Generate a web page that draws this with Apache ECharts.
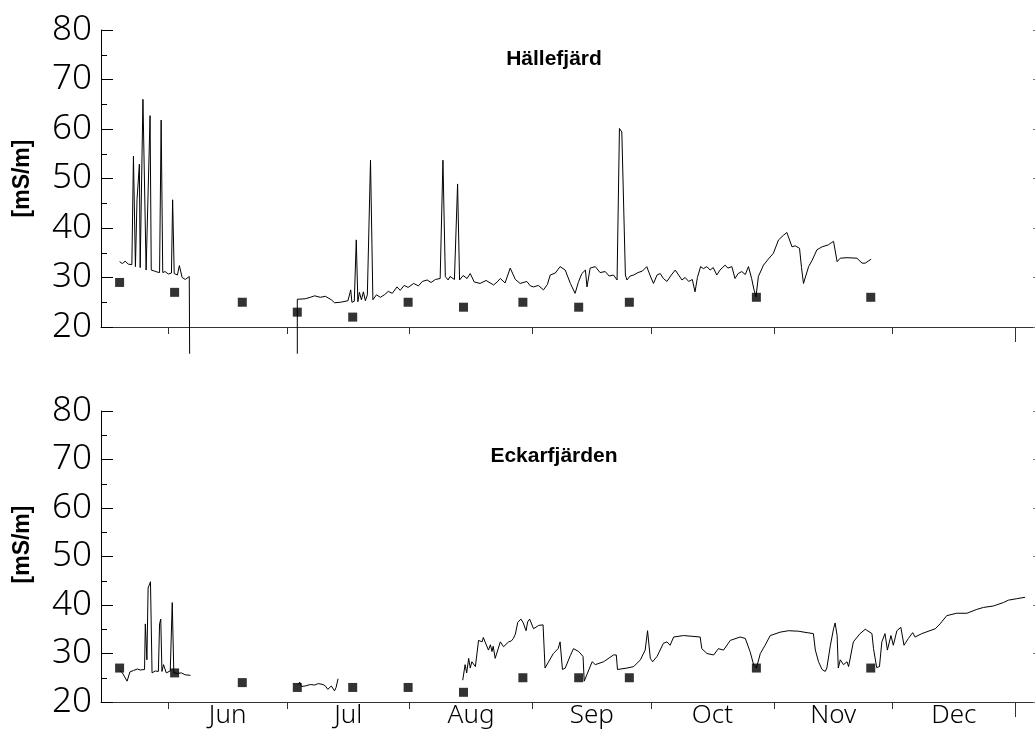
<!DOCTYPE html>
<html>
<head>
<meta charset="utf-8">
<title>Konduktivitet</title>
<script src="https://cdn.jsdelivr.net/npm/echarts@6/dist/echarts.min.js"></script>
<style>
  html, body { margin: 0; padding: 0; background: #fff; }
  #chart { width: 1035px; height: 729px; }
</style>
</head>
<body>
<div id="chart"></div>
<script>
// Days are counted from 1 June; values are conductivity in mS/m.
const monthLabels = ['Jun', 'Jul', 'Aug', 'Sep', 'Oct', 'Nov', 'Dec'];
const monthStartDay = [0, 30, 61, 92, 122, 153, 183, 214];   // 1 Jun ... 1 Jan
const stationNames = ['Hällefjärd', 'Eckarfjärden'];
const unitLabel = '[mS/m]';

// Grab samples (same dates at both stations)
const sampleDay = [-12.3, 1.6, 18.7, 32.6, 46.6, 60.6, 74.6, 89.6, 103.7, 116.5, 148.6, 177.5];
const hallSample = [29, 27, 25, 23, 22, 25, 24, 25, 24, 25, 26, 26];
const eckSample = [27, 26, 24, 23, 23, 23, 22, 25, 25, 25, 27, 27];

// Logger series, Hällefjärd (null = gap in the record)
const hallDay = [
  -12.3, -11.6, -10.9, -10.1, -9.2, -8.8, -8.3, -7.9, -7.3, -7.1, -6.7, -6.4, -5.6, -5.1, -4.6, -4.3,
  -3.5, -2.8, -2.2, -1.8, -1.4, -0.8, 0, 0.8, 1.1, 1.5, 2.3, 2.8, 3.5, 4.3, 5.3, 5.4,
  19.0,
  32.6, 32.6, 33.0, 34.6, 35.9, 37.0, 38.4, 39.7, 41.2, 42.0, 43.5, 45.4, 46.1, 46.4, 47.0, 47.5,
  47.9, 48.3, 48.8, 49.3, 49.8, 50.3, 51.1, 51.7, 52.6, 53.6, 54.6, 55.6, 56.6, 57.8, 58.6, 59.6,
  60.6, 62.0, 63.2, 64.2, 65.4, 66.4, 67.5, 68.7, 69.4, 70.0, 70.7, 71.2, 72.3, 73.1, 73.6, 74.5,
  75.5, 76.3, 77.3, 78.8, 80.3, 82.2, 83.1, 83.9, 85.1, 86.4, 87.7, 88.9, 90.6, 91.5, 92.3, 93.5,
  94.8, 95.8, 96.5, 97.8, 99.0, 100.3, 101.6, 102.8, 103.6, 104.5, 105.4, 105.8, 106.6, 107.9, 109.1, 110.4,
  111.4, 112.5, 113.4, 114.0, 114.6, 115.5, 115.9, 116.7, 117.6, 118.7, 119.8, 120.9, 121.8, 122.6, 123.5, 124.3,
  125.1, 126.0, 127.1, 128.1, 129.8, 130.6, 131.5, 132.4, 133.1, 133.7, 134.5, 135.2, 136.1, 136.9, 137.7, 138.6,
  139.4, 140.7, 141.4, 142.4, 143.2, 144.0, 144.9, 145.8, 146.6, 147.4, 148.0, 148.5, 149.1, 150.4, 151.6, 152.9,
  154.2, 155.4, 156.3, 157.6, 158.4, 159.5, 160.0, 160.5, 161.8, 162.7, 163.9, 165.2, 166.8, 167.5, 168.1, 169.0,
  169.8, 171.5, 174.0, 175.3, 176.1, 177.6
];
const hallVal = [
  33.2, 32.8, 33.3, 32.7, 32.6, 54.5, 32.2, 45.7, 52.9, 32.0, 32.3, 66.0, 31.5, 31.7, 62.7, 31.5,
  31.3, 31.1, 31.0, 61.8, 31.0, 31.2, 30.7, 30.9, 45.7, 30.8, 30.5, 32.4, 30.0, 29.6, 30.2, 14.6,
  null,
  14.6, 25.6, 25.6, 25.7, 26.0, 26.3, 26.0, 26.2, 25.5, 24.9, 25.0, 25.3, 27.5, 25.0, 25.2, 37.6,
  25.1, 27.0, 25.5, 27.1, 25.3, 26.5, 53.7, 25.5, 26.5, 26.0, 26.5, 27.2, 26.8, 28.1, 27.4, 28.4,
  28.0, 28.8, 28.3, 29.2, 29.5, 29.0, 29.6, 29.8, 53.7, 30.2, 29.5, 30.2, 29.6, 48.9, 29.5, 30.4,
  29.8, 30.8, 29.1, 28.8, 29.4, 28.5, 29.1, 29.8, 28.9, 31.9, 29.6, 28.8, 29.2, 28.3, 28.1, 28.4,
  27.5, 28.6, 30.5, 30.9, 32.2, 31.5, 28.8, 26.8, 29.0, 30.8, 31.5, 28.1, 31.9, 32.2, 31.0, 31.2,
  30.3, 30.5, 29.5, 60.1, 59.4, 30.5, 29.5, 30.3, 30.5, 31.0, 31.3, 32.2, 30.3, 28.8, 30.5, 30.8,
  29.8, 29.2, 30.5, 31.5, 29.5, 30.0, 29.2, 29.6, 27.1, 30.0, 32.2, 31.8, 32.2, 31.5, 32.0, 30.5,
  31.5, 32.5, 31.9, 32.2, 29.8, 30.8, 31.2, 30.6, 32.2, 29.8, 27.5, 26.1, 30.2, 32.5, 33.7, 34.9,
  37.6, 38.5, 39.1, 36.2, 36.4, 35.9, 32.0, 28.8, 32.2, 33.5, 35.6, 36.2, 36.6, 37.0, 37.3, 33.2,
  33.9, 34.0, 33.9, 32.9, 32.9, 33.7
];

// Logger series, Eckarfjärden
const eckDay = [
  -12.3, -11.6, -11.1, -10.4, -9.7, -8.8, -7.8, -7.1, -6.0, -5.8, -5.5, -5.4, -5.1, -4.5, -4.1, -3.3,
  -2.5, -2.2, -1.9, -1.6, -1.2, -0.5, 0.5, 1.0, 1.4, 2.3, 3.3, 4.3, 5.6,
  19.0,
  32.8, 33.2, 33.6, 34.6, 35.9, 37.0, 37.9, 39.1, 39.7, 40.3, 41.2, 42.0, 42.4, 42.9,
  58.0,
  74.4, 75.0, 75.4, 75.9, 76.3, 76.7, 77.6, 78.4, 79.3, 79.6, 80.1, 80.9, 81.4, 81.8, 82.1, 82.6,
  83.9, 84.7, 86.0, 86.7, 87.2, 87.7, 88.3, 89.1, 89.7, 90.4, 90.8, 91.3, 92.3, 93.6, 94.7, 95.2,
  95.7, 97.3, 98.5, 99.0, 99.6, 100.3, 101.6, 102.4, 103.7, 104.8, 105.1, 105.8, 107.1, 107.9, 110.0, 112.5,
  113.2, 113.5, 115.9, 117.6, 119.3, 120.5, 121.1, 121.8, 122.4, 123.5, 125.1, 126.0, 126.8, 127.7, 130.2, 134.4,
  134.8, 136.1, 137.8, 139.0, 140.3, 142.0, 144.5, 145.8, 147.0, 147.9, 148.6, 149.6, 150.8, 152.1, 154.6, 156.7,
  159.2, 161.4, 163.0, 163.5, 164.3, 165.2, 166.0, 166.4, 167.3, 168.1, 168.5, 169.0, 169.3, 169.8, 170.6, 171.5,
  171.9, 173.1, 174.8, 176.1, 177.8, 178.2, 179.0, 179.7, 180.3, 181.1, 181.7, 182.6, 183.2, 184.1, 185.1, 185.9,
  187.0, 188.1, 188.7, 190.4, 193.8, 195.0, 196.7, 199.2, 201.8, 204.3, 206.0, 208.5, 211.0, 212.3, 214.4, 216.5
];
const eckVal = [
  26.5, 26.0, 25.7, 24.3, 26.2, 26.5, 26.8, 26.6, 26.7, 36.1, 36.0, 28.7, 43.5, 44.8, 26.0, 26.4,
  26.3, 36.1, 37.1, 26.3, 27.7, 26.0, 26.4, 40.5, 26.0, 25.9, 26.0, 25.6, 25.5,
  null,
  23.6, 24.1, 23.2, 23.3, 23.6, 23.5, 23.8, 23.6, 23.3, 22.6, 23.3, 22.3, 23.0, 24.8,
  null,
  24.5, 27.7, 26.0, 29.0, 27.0, 28.3, 27.3, 32.7, 32.4, 33.3, 33.4, 30.7, 31.8, 30.4, 31.5, 29.0,
  32.4, 31.4, 32.4, 32.6, 33.1, 34.0, 36.4, 37.1, 36.3, 34.7, 36.5, 37.1, 35.1, 35.8, 35.9, 27.0,
  27.0, 30.0, 31.0, 32.4, 26.7, 27.0, 29.6, 31.0, 30.4, 29.4, 24.3, 25.7, 28.3, 27.7, 28.3, 29.7,
  29.7, 26.7, 27.0, 27.3, 28.7, 30.7, 34.7, 29.0, 28.3, 29.4, 32.1, 32.4, 31.7, 33.4, 33.7, 33.4,
  31.0, 30.0, 29.7, 31.0, 30.7, 32.7, 33.4, 33.1, 30.4, 27.7, 27.0, 30.0, 31.7, 33.7, 34.4, 34.7,
  34.6, 34.3, 34.1, 30.7, 28.3, 26.7, 26.3, 27.0, 31.7, 35.1, 36.3, 33.7, 27.0, 28.7, 27.7, 28.3,
  27.3, 32.4, 34.1, 35.0, 34.1, 31.0, 27.1, 27.3, 32.4, 34.1, 30.7, 33.7, 31.7, 34.7, 35.4, 31.7,
  33.1, 34.3, 33.4, 34.1, 35.1, 36.1, 37.8, 38.3, 38.3, 39.1, 39.5, 39.8, 40.5, 41.0, 41.3, 41.6
];

const X_MIN = -17;   // 15 May
const X_MAX = 219;   // 6 Jan
const pairs = (days, vals) => days.map((d, i) => [d, vals[i]]);

const monthMid = monthStartDay.slice(0, -1).map((d, i) => (d + monthStartDay[i + 1]) / 2);
const yearEnd = [monthStartDay[monthStartDay.length - 1]];

// light, narrow face for the tick numbers and month names
const thinFont = '"Noto Sans ExtraCondensed Light", "Noto Sans Condensed Light", "Noto Sans", "DejaVu Sans Condensed", sans-serif';
const thinWeight = '300 extra-condensed';
const boldFont = '"Liberation Sans", Arial, Helvetica, sans-serif';

const grids = [
  { left: 101, right: 0, top: 30, height: 297 },
  { left: 101, right: 0, top: 411, height: 297 }
];

function mainX(gridIndex, withLabels) {
  return {
    type: 'value', gridIndex: gridIndex, min: X_MIN, max: X_MAX, position: 'bottom',
    axisLine: { show: true, onZero: false, lineStyle: { color: '#333', width: 1 } },
    axisTick: { show: true, length: 7, lineStyle: { color: '#333' }, customValues: monthStartDay.slice(0, -1) },
    axisLabel: {
      show: withLabels, customValues: monthMid, margin: 1,
      fontFamily: thinFont, fontWeight: thinWeight, fontSize: 26, color: '#000',
      formatter: v => monthLabels[monthMid.indexOf(v)] || ''
    },
    splitLine: { show: false }
  };
}
function yearTickX(gridIndex) {
  return {
    type: 'value', gridIndex: gridIndex, min: X_MIN, max: X_MAX, position: 'bottom',
    axisLine: { show: false, onZero: false },
    axisTick: { show: true, length: 15, lineStyle: { color: '#333' }, customValues: yearEnd },
    axisLabel: { show: false },
    splitLine: { show: false }
  };
}
function leftY(gridIndex, namePad) {
  return {
    type: 'value', gridIndex: gridIndex, min: 20, max: 80, interval: 10, position: 'left',
    name: unitLabel, nameLocation: 'middle', nameGap: 67,
    nameTextStyle: { fontFamily: boldFont, fontWeight: 'bold', fontSize: 23, color: '#000', padding: namePad },
    axisLine: { show: true, onZero: false, lineStyle: { color: '#000', width: 1 } },
    axisTick: { show: true, inside: true, length: 12, lineStyle: { color: '#000' } },
    minorTick: { show: true, splitNumber: 2, length: 6, lineStyle: { color: '#000' } },
    axisLabel: { margin: 9, fontFamily: thinFont, fontWeight: thinWeight, fontSize: 35, color: '#000' },
    splitLine: { show: false }
  };
}
function rightY(gridIndex) {
  return {
    type: 'value', gridIndex: gridIndex, position: 'right', min: 20, max: 80, interval: 10,
    axisLine: { show: false, onZero: false },
    axisTick: { show: true, inside: true, length: 2, lineStyle: { color: '#777' } },
    axisLabel: { show: false },
    splitLine: { show: false }
  };
}

function lineSeries(idx, data) {
  return {
    type: 'line', xAxisIndex: idx, yAxisIndex: idx, data: data,
    showSymbol: false, symbol: 'none', clip: false, connectNulls: false,
    lineStyle: { color: '#000', width: 1 }, z: 3
  };
}
function sampleSeries(idx, data) {
  return {
    type: 'scatter', xAxisIndex: idx, yAxisIndex: idx, data: data,
    symbol: 'rect', symbolSize: 9, itemStyle: { color: '#000' }, z: 4
  };
}

const chart = echarts.init(document.getElementById('chart'), null, { renderer: 'canvas' });
chart.setOption({
  animation: false,
  backgroundColor: '#fff',
  title: [
    { text: stationNames[0], left: 549, top: 44, textAlign: 'center',
      textStyle: { fontFamily: boldFont, fontWeight: 'bold', fontSize: 21, color: '#000' } },
    { text: stationNames[1], left: 549, top: 441, textAlign: 'center',
      textStyle: { fontFamily: boldFont, fontWeight: 'bold', fontSize: 21, color: '#000' } }
  ],
  grid: grids,
  xAxis: [mainX(0, false), mainX(1, true), yearTickX(0), yearTickX(1)],
  yAxis: [leftY(0, 0), leftY(1, [0, 0, 0, 24]), rightY(0), rightY(1)],
  series: [
    lineSeries(0, pairs(hallDay, hallVal)),
    sampleSeries(0, pairs(sampleDay, hallSample)),
    lineSeries(1, pairs(eckDay, eckVal)),
    sampleSeries(1, pairs(sampleDay, eckSample))
  ]
});
</script>
</body>
</html>
